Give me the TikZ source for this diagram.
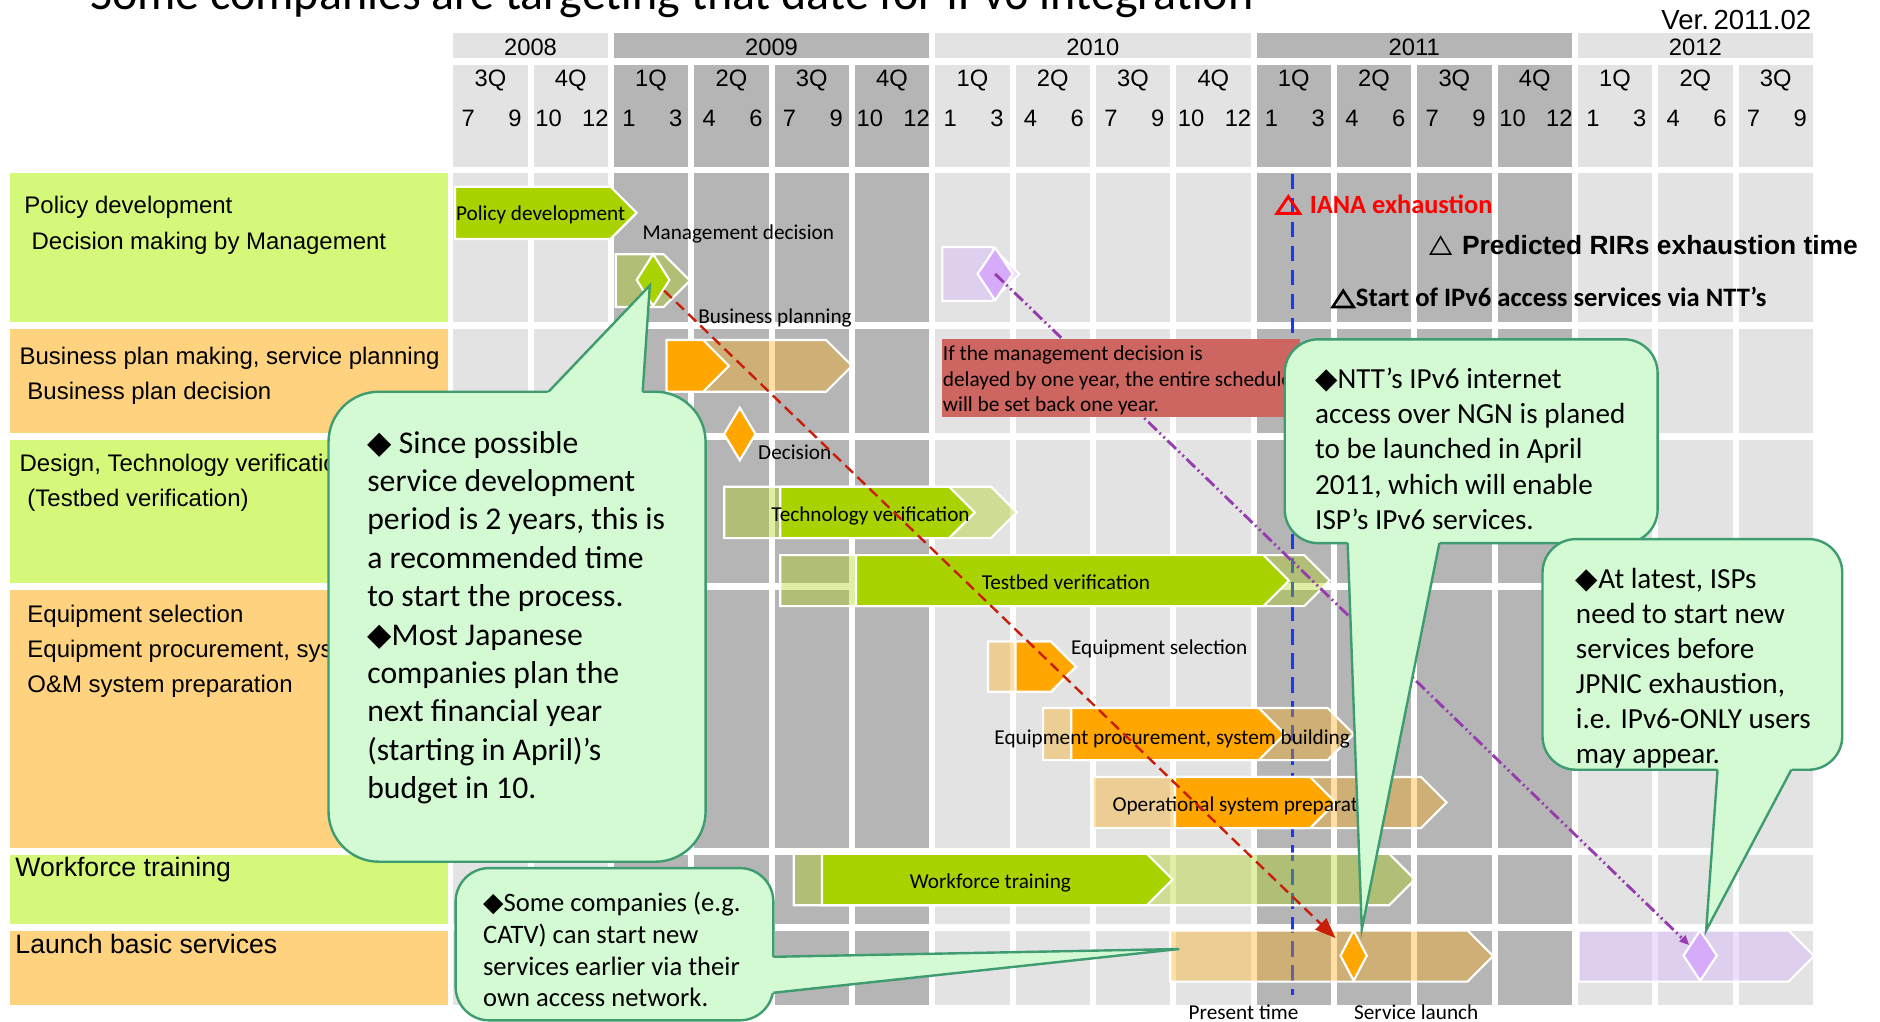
\documentclass[tikz,border=0pt]{standalone}
\usepackage{fontspec}
\setmainfont{Carlito}
\newfontfamily\arialf{Liberation Sans}
\newfontfamily\symf{DejaVu Sans}
\usetikzlibrary{shapes.geometric,arrows.meta,calc}

\definecolor{lgray}{RGB}{227,227,227}
\definecolor{dgray}{RGB}{181,181,181}
\definecolor{labgreen}{RGB}{214,248,122}
\definecolor{laborange}{RGB}{254,210,126}
\definecolor{bgreen}{RGB}{169,211,0}
\definecolor{borange}{RGB}{255,166,0}
\definecolor{bpurple}{RGB}{214,172,250}
\definecolor{gpurple}{RGB}{218,184,252}
\definecolor{redbox}{RGB}{205,102,96}
\definecolor{callfill}{RGB}{212,250,212}
\definecolor{callline}{RGB}{62,156,112}
\definecolor{dashred}{RGB}{200,30,10}
\definecolor{dashpurple}{RGB}{150,60,175}
\definecolor{nowblue}{RGB}{20,60,240}

\newcommand\fsz[1]{\fontsize{#1}{#1}\selectfont}
\newcommand\dia{{\symf ◆}}
% arrow-shaped bar: #1 left x, #2 tip x, #3 top y, #4 bottom y, #5 style
\newcommand\chevron[5]{\path[#5] (#1,#3) -- ({#2-(#4-#3)/2},#3) -- (#2,{(#3+#4)/2}) -- ({#2-(#4-#3)/2},#4) -- (#1,#4) -- cycle;}

\tikzset{
  hdr/.style={anchor=base, inner sep=0pt, font=\arialf\fsz{9.9}},
  lab/.style={anchor=base west, inner sep=0pt, font=\arialf\fsz{10}},
  labbig/.style={anchor=base west, inner sep=0pt, font=\arialf\fsz{11.1}},
  bartxt/.style={anchor=base west, inner sep=0pt, font=\fsz{8.85}},
  boxtxt/.style={anchor=base west, inner sep=0pt, font=\fsz{8.9}},
  c1txt/.style={anchor=base west, inner sep=0pt, font=\fsz{13.2}},
  c2txt/.style={anchor=base west, inner sep=0pt, font=\fsz{12.15}},
  c4txt/.style={anchor=base west, inner sep=0pt, font=\fsz{11.1}},
  solidG/.style={fill=bgreen, draw=white, line width=0.9pt},
  ghostG/.style={fill=bgreen, fill opacity=0.35, draw=white, line width=0.9pt},
  solidO/.style={fill=borange, draw=white, line width=0.9pt},
  ghostO/.style={fill=borange, fill opacity=0.35, draw=white, line width=0.9pt},
  ghostP/.style={fill=gpurple, fill opacity=0.45, draw=white, line width=0.9pt},
  diam/.style={diamond, draw=white, line width=0.9pt, inner sep=0pt},
  redarr/.style={draw=dashred, line width=1pt, dash pattern=on 4.5pt off 2.5pt,
    -{Triangle[length=8.5pt,width=6.5pt]}, shorten >=5pt},
  purparr/.style={draw=dashpurple, line width=1.2pt,
    dash pattern=on 5pt off 1.5pt on 0.8pt off 1.5pt on 0.8pt off 1.5pt,
    -{Triangle[length=4pt,width=3.5pt]}},
  nowline/.style={draw=nowblue, line width=1.4pt, dash pattern=on 6.5pt off 3.5pt},
  callout/.style={fill=callfill, draw=callline, line width=1pt},
  calledge/.style={draw=callline, line width=1pt, line join=miter},
}

\begin{document}
\begin{tikzpicture}[x=0.5pt,y=-0.5pt]
\useasboundingbox (0,0) rectangle (1568,852);
\clip (0,0) rectangle (1568,852);
\fill[white] (0,0) rectangle (1568,852);

% title line and version
\node[anchor=base west, inner sep=0pt, font=\fsz{20}] (title) at (74.7,8)
  {Some companies are targeting that date for IPv6 integration};
\node[anchor=base east, inner sep=0pt, font=\arialf\fsz{11.5}] (ver) at (1511,25) {Ver.\,2011.02};

% year header
\foreach \xa/\xb/\yr/\c in {378/507/2008/lgray,512/775/2009/dgray,780/1043/2010/lgray,1048/1311/2011/dgray,1316/1512/2012/lgray}{
  \fill[\c] (\xa,27.8) rectangle (\xb,48.6);
  \node[hdr] (y\yr) at ({(\xa+\xb)/2},46) {\yr};
}

% quarter columns with month labels, and the body cells below them
\foreach \i/\c/\q/\ma/\mb in {0/lgray/3/7/9,1/lgray/4/10/12,2/dgray/1/1/3,3/dgray/2/4/6,4/dgray/3/7/9,5/dgray/4/10/12,6/lgray/1/1/3,7/lgray/2/4/6,8/lgray/3/7/9,9/lgray/4/10/12,10/dgray/1/1/3,11/dgray/2/4/6,12/dgray/3/7/9,13/dgray/4/10/12,14/lgray/1/1/3,15/lgray/2/4/6,16/lgray/3/7/9}{
  \pgfmathsetmacro\xl{378+67*\i}
  \fill[\c] (\xl,54.2) rectangle ({\xl+62},139);
  \node[hdr] (q\i) at ({\xl+31},72.5) {\q Q};
  \node[hdr] (ma\i) at ({\xl+12.5},105.7) {\ma};
  \node[hdr] (mb\i) at ({\xl+51.5},105.7) {\mb};
  \foreach \ya/\yb in {144.5/268.5,274/361,367/486,492/707,713/771,776.5/838}{
    \fill[\c] (\xl,\ya) rectangle ({\xl+62},\yb);
  }
}

% row labels
\fill[labgreen]  (8.5,144.5) rectangle (373.5,268.5);
\fill[laborange] (8.5,274) rectangle (373.5,361);
\fill[labgreen]  (8.5,367) rectangle (373.5,486);
\fill[laborange] (8.5,492) rectangle (373.5,707);
\fill[labgreen]  (8.5,713) rectangle (373.5,771);
\fill[laborange] (8.5,776.5) rectangle (373.5,838);
\node[lab] (l1a) at (20,178) {Policy development};
\node[lab] (l1b) at (26,208) {Decision making by Management};
\node[lab] (l2a) at (16,304.4) {Business plan making, service planning};
\node[lab] (l2b) at (22.5,333.6) {Business plan decision};
\node[lab] (l3a) at (16,393.4) {Design, Technology verification};
\node[lab] (l3b) at (22.5,422.6) {(Testbed verification)};
\node[lab] (l4a) at (22.5,519.3) {Equipment selection};
\node[lab] (l4b) at (22.5,548.5) {Equipment procurement, system building};
\node[lab] (l4c) at (22.5,577.7) {O\&M system preparation};
\node[labbig] (l5) at (12.5,731.2) {Workforce training};
\node[labbig] (l6) at (12.5,795) {Launch basic services};

% present time marker
\coordinate (nowtop) at (1078,145);
\coordinate (nowbot) at (1078,830);
\draw[nowline] (nowtop) -- (nowbot);

% milestones
\draw[red, line width=1.2pt, line join=miter] (1065,178) -- (1074.5,164) -- (1084,178) -- cycle;
\node[anchor=base west, inner sep=0pt, font=\bfseries\fsz{11}, text=red] (iana) at (1092,178) {IANA exhaustion};
\draw[black, line width=0.6pt, line join=miter] (1193,212) -- (1201.5,197.5) -- (1210,212) -- cycle;
\node[anchor=base west, inner sep=0pt, font=\arialf\bfseries\fsz{11}] (rir) at (1219,212.6) {Predicted RIRs exhaustion time};
\draw[black, line width=1.1pt, line join=miter] (1111.5,256) -- (1120.3,242.5) -- (1129,256) -- cycle;
\node[anchor=base west, inner sep=0pt, font=\bfseries\fsz{11.1}] (ntt) at (1130.5,256) {Start of IPv6 access services via NTT’s};

% schedule bars
\chevron{379.5}{531}{155.7}{199.3}{solidG}
\chevron{513.5}{575.5}{212}{256}{ghostG}
\chevron{786}{850}{206}{251}{ghostP}
\chevron{556}{710.6}{283.6}{326.7}{ghostO}
\chevron{556}{608}{283.6}{326.7}{solidO}
\chevron{604}{848}{406}{448.8}{ghostG}
\chevron{650.7}{813}{406}{448.8}{solidG}
\chevron{650.7}{1109}{463}{505.5}{ghostG}
\chevron{714}{1075}{463}{505.5}{solidG}
\chevron{824}{897.5}{535}{577}{ghostO}
\chevron{847}{897.5}{535}{577}{solidO}
\chevron{870}{1129}{590.5}{634}{ghostO}
\chevron{893.5}{1071.6}{590.5}{634}{solidO}
\chevron{911.5}{1206.5}{648}{690.7}{ghostO}
\chevron{980}{1114}{648}{690.7}{solidO}
\chevron{662}{1180}{712}{755}{ghostG}
\chevron{685.6}{978}{712}{755}{solidG}
\chevron{976}{1245.3}{776}{818.7}{ghostO}
\chevron{1316.5}{1513}{776}{818.7}{ghostP}

% decision points
\node[diam, fill=bgreen, minimum width=14pt, minimum height=22pt] (mgmt) at (544.7,233.5) {};
\node[diam, fill=bpurple, minimum width=15pt, minimum height=22.25pt] (pd1) at (830,228.5) {};
\node[diam, fill=borange, minimum width=13.5pt, minimum height=22.25pt] (dec) at (617,362) {};
\node[diam, fill=borange, minimum width=11.3pt, minimum height=21.35pt] (slaunch) at (1129,797) {};
\node[diam, fill=bpurple, minimum width=14.25pt, minimum height=21.35pt] (pd2) at (1418,797) {};

% bar captions
\node[bartxt] (tpol) at (380,184) {Policy development};
\node[bartxt] (tmgmt) at (535.5,200) {Management decision};
\node[bartxt] (tbiz) at (582,269.7) {Business planning};
\node[bartxt] (tdec) at (632,383) {Decision};
\node[bartxt, anchor=base] (ttech) at (726,435) {Technology verification};
\node[bartxt, anchor=base] (ttest) at (889,491.5) {Testbed verification};
\node[bartxt] (tsel) at (893,545.8) {Equipment selection};
\node[bartxt] (tproc) at (829,620.8) {Equipment procurement, system building};
\node[bartxt] (top) at (927.5,677) {Operational system preparation};
\node[bartxt, anchor=base] (twork) at (826,740.9) {Workforce training};
\node[bartxt] (tnow) at (991,850) {Present time};
\node[bartxt] (tlaunch) at (1129,850) {Service launch};

% dependency arrows
\draw[redarr] (mgmt) -- (slaunch);
\draw[purparr] (pd1.center) -- (pd2);

% delay note
\fill[redbox] (786,282.7) rectangle (1084,347.5);
\node[boxtxt] (d1) at (786,301) {If the management decision is};
\node[boxtxt] (d2) at (786,322.3) {delayed by one year, the entire schedule};
\node[boxtxt] (d3) at (786,343) {will be set back one year.};

% callout: recommended start
\draw[callout, rounded corners=21pt] (274,326.7) rectangle (588.5,718.7);
\coordinate (c1t) at (542,238);
\coordinate (c1a) at (457.5,326.7);
\coordinate (c1b) at (536,326.7);
\fill[callfill] ($(c1t)!1.04!(c1a)$) -- (c1t) -- ($(c1t)!1.04!(c1b)$) -- cycle;
\draw[calledge] (c1a) -- (c1t) -- (c1b);
\foreach \t [count=\k from 0] in {{\dia\ Since possible},{service development},{period is 2 years, this is},{a recommended time},{to start the process.},{\dia Most Japanese},{companies plan the},{next financial year},{(starting in April)’s},{budget in 10.}}{
  \node[c1txt] (c1l\k) at (306,{378+32*\k}) {\t};
}

% callout: own access network
\draw[callout, rounded corners=14pt] (380,724) rectangle (645,851);
\coordinate (c4t) at (983.5,791.5);
\coordinate (c4a) at (645,798);
\coordinate (c4b) at (645,828);
\fill[callfill] ($(c4t)!1.04!(c4a)$) -- (c4t) -- ($(c4t)!1.04!(c4b)$) -- cycle;
\draw[calledge] (c4a) -- (c4t) -- (c4b);
\foreach \t [count=\k from 0] in {{\dia Some companies (e.g.},{CATV) can start new},{services earlier via their},{own access network.}}{
  \node[c4txt] (c4l\k) at (402.5,{760.4+26.4*\k}) {\t};
}

% callout: NGN launch
\draw[callout, rounded corners=14pt] (1071.5,283) rectangle (1382.5,453);
\coordinate (c2t) at (1135.8,775);
\coordinate (c2a) at (1124,453);
\coordinate (c2b) at (1200.5,453);
\fill[callfill] ($(c2t)!1.04!(c2a)$) -- (c2t) -- ($(c2t)!1.04!(c2b)$) -- cycle;
\draw[calledge] (c2a) -- (c2t) -- (c2b);
\foreach \t [count=\k from 0] in {{\dia NTT’s IPv6 internet},{access over NGN is planed},{to be launched in April},{2011, which will enable},{ISP’s IPv6 services.}}{
  \node[c2txt] (c2l\k) at (1096.5,{324+29.4*\k}) {\t};
}

% callout: latest start
\draw[callout, rounded corners=14pt] (1286.5,449.6) rectangle (1536.5,642);
\coordinate (c3t) at (1423,776);
\coordinate (c3a) at (1432.5,642);
\coordinate (c3b) at (1494,642);
\fill[callfill] ($(c3t)!1.04!(c3a)$) -- (c3t) -- ($(c3t)!1.04!(c3b)$) -- cycle;
\draw[calledge] (c3a) -- (c3t) -- (c3b);
\foreach \t [count=\k from 0] in {{\dia At latest, ISPs},{need to start new},{services before},{JPNIC exhaustion,},{i.e. IPv6-ONLY users},{may appear.}}{
  \node[c2txt] (c3l\k) at (1314,{491+29.2*\k}) {\t};
}
\end{tikzpicture}
\end{document}
